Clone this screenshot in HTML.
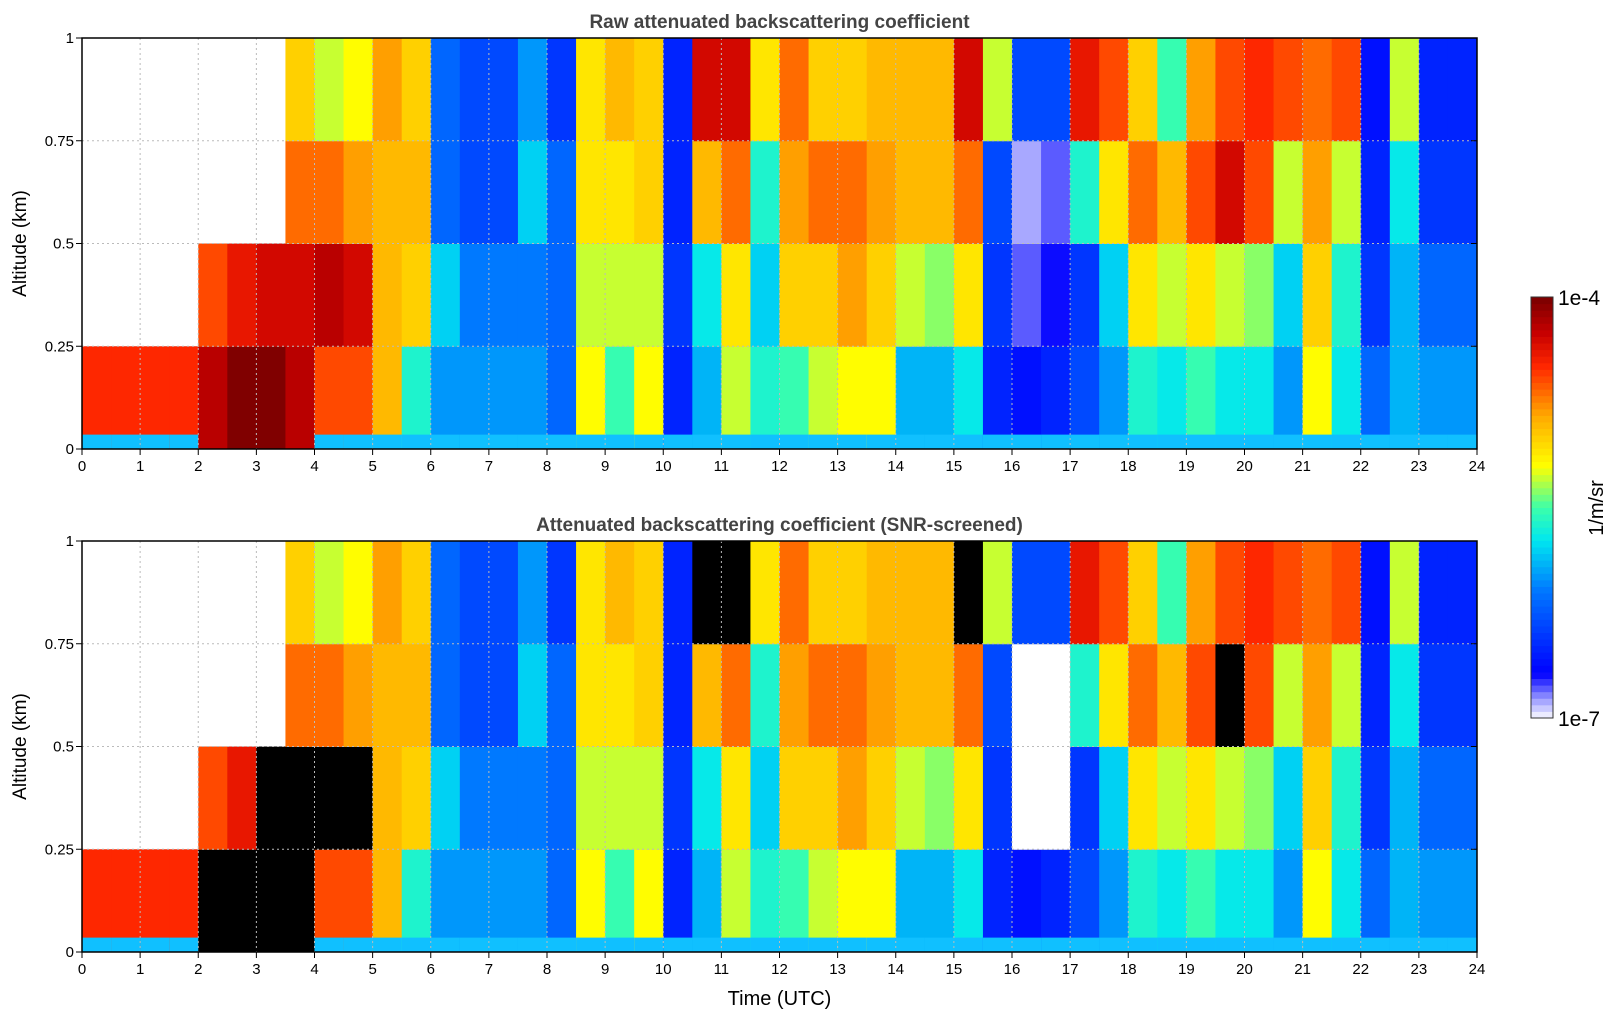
<!DOCTYPE html>
<html><head><meta charset="utf-8">
<style>
body{margin:0;background:#fff;}
svg text{font-family:"Liberation Sans","DejaVu Sans",sans-serif;}
</style></head>
<body>
<svg id="chart" width="1621" height="1020" xmlns="http://www.w3.org/2000/svg">
<rect width="1621" height="1020" fill="#fff"/>
</svg>
<script>
// log10 backscatter per half-hour column, 4 altitude bins (0-0.25, 0.25-0.5, 0.5-0.75, 0.75-1 km); null = no data
const bin0 = [-4.5,-4.5,-4.5,-4.5,-4.2,-4.0,-4.0,-4.2,-4.6,-4.6,-4.9,-5.6,-6.0,-6.0,-6.0,-6.0,-6.2,-5.2,-5.5,-5.2,-6.5,-5.9,-5.3,-5.6,-5.5,-5.3,-5.2,-5.2,-5.9,-5.9,-5.7,-6.5,-6.6,-6.5,-6.3,-6.0,-5.6,-5.7,-5.5,-5.7,-5.7,-6.0,-5.2,-5.7,-6.2,-5.9,-6.0,-6.0];
const bin1 = [null,null,null,null,-4.6,-4.4,-4.3,-4.3,-4.2,-4.3,-4.9,-5.0,-5.8,-6.1,-6.1,-6.1,-6.2,-5.3,-5.3,-5.3,-6.4,-5.7,-5.1,-5.8,-5.0,-5.0,-4.8,-5.0,-5.3,-5.4,-5.1,-6.4,-6.8,-6.7,-6.4,-5.8,-5.1,-5.3,-5.1,-5.3,-5.4,-5.8,-5.0,-5.6,-6.4,-5.9,-6.2,-6.2];
const bin2 = [null,null,null,null,null,null,null,-4.7,-4.7,-4.8,-4.9,-4.9,-6.2,-6.3,-6.3,-5.8,-6.2,-5.1,-5.1,-5.0,-6.5,-4.9,-4.7,-5.6,-4.8,-4.7,-4.7,-4.8,-4.9,-4.9,-4.7,-6.3,-6.9,-6.8,-5.6,-5.1,-4.7,-4.9,-4.6,-4.3,-4.6,-5.3,-4.8,-5.3,-6.5,-5.7,-6.4,-6.4];
const bin3 = [null,null,null,null,null,null,null,-5.0,-5.3,-5.2,-4.8,-5.0,-6.2,-6.3,-6.3,-6.0,-6.4,-5.1,-4.9,-5.0,-6.5,-4.3,-4.3,-5.1,-4.7,-5.0,-5.0,-4.9,-4.9,-4.9,-4.3,-5.3,-6.3,-6.3,-4.4,-4.6,-5.0,-5.5,-4.8,-4.6,-4.5,-4.6,-4.7,-4.6,-6.6,-5.3,-6.5,-6.5];
const xTicks = ["0","1","2","3","4","5","6","7","8","9","10","11","12","13","14","15","16","17","18","19","20","21","22","23","24"];
const yTicks = ["0","0.25","0.5","0.75","1"];
const titles = ["Raw attenuated backscattering coefficient","Attenuated backscattering coefficient (SNR-screened)"];

const NS="http://www.w3.org/2000/svg";
const svg=document.getElementById('chart');
const X0=82,X1=1477;
const panels=[{top:38,bot:449},{top:541,bot:952}];
function xs(h){return X0+(X1-X0)*h/24;}
function ys(p,a){return p.bot-(p.bot-p.top)*a;}
const stops=[[0,[235,235,255]],[0.04,[150,150,255]],[0.1,[0,0,255]],[0.3,[0,120,255]],[0.42,[0,230,240]],[0.5,[60,255,170]],[0.6,[255,255,0]],[0.72,[255,170,0]],[0.84,[255,40,0]],[0.92,[200,0,0]],[1,[128,0,0]]];
function cmap(t){t=Math.max(0,Math.min(1,t));t=Math.floor(t*63.99)/63;
 for(let i=1;i<stops.length;i++){if(t<=stops[i][0]){const a=stops[i-1],b=stops[i],f=(t-a[0])/(b[0]-a[0]);
 return 'rgb('+a[1].map((c,k)=>Math.round(c+(b[1][k]-c)*f)).join(',')+')';}}return 'rgb(128,0,0)';}
function mk(tag,attrs,parent){const e=document.createElementNS(NS,tag);for(const k in attrs)e.setAttribute(k,attrs[k]);(parent||svg).appendChild(e);return e;}
const bins=[bin0,bin1,bin2,bin3];
panels.forEach((p,pi)=>{
 const g=mk('g',{});
 
 
 for(let c=0;c<48;c++){for(let b=0;b<4;b++){const v=bins[b][c];if(v===null)continue;
  let col=cmap((v+7)/3);
  if(pi===1){if(v>-4.35)col='#000';else if(v<-6.6)col='#fff';}
  const r=mk('rect',{x:xs(c/2),y:ys(p,(b+1)/4),width:xs((c+1)/2)-xs(c/2)+0.5,height:ys(p,b/4)-ys(p,(b+1)/4)+0.5,fill:col},g);
  
  
 }
 if(bin0[c]<-4.3){
  const s=mk('rect',{x:xs(c/2),y:ys(p,0.035),width:xs((c+1)/2)-xs(c/2)+0.5,height:ys(p,0)-ys(p,0.035),fill:'#10c0ff'},g);
  
  
 }}
 for(let i=1;i<24;i++)mk('line',{x1:xs(i),x2:xs(i),y1:p.top,y2:p.bot,stroke:'#bbb','stroke-dasharray':'2,3','stroke-width':1});
 for(let j=1;j<4;j++)mk('line',{x1:X0,x2:X1,y1:ys(p,j/4),y2:ys(p,j/4),stroke:'#bbb','stroke-dasharray':'2,3','stroke-width':1});
 const fr=mk('rect',{x:X0,y:p.top,width:X1-X0,height:p.bot-p.top,fill:'none',stroke:'#000','stroke-width':1.5});
 
 
 xTicks.forEach((t,i)=>{mk('line',{x1:xs(i),x2:xs(i),y1:p.bot,y2:p.bot+6,stroke:'#000'});
  const tx=mk('text',{x:xs(i),y:p.bot+22,'font-size':15,'text-anchor':'middle'});tx.textContent=t;
  });
 yTicks.forEach((t,j)=>{const y=ys(p,j/4);mk('line',{x1:X0-6,x2:X0,y1:y,y2:y,stroke:'#000'});mk('line',{x1:X1-6,x2:X1,y1:y,y2:y,stroke:'#000'});
  const tx=mk('text',{x:X0-8,y:y+5,'font-size':15,'text-anchor':'end'});tx.textContent=t;
  });
 const tt=mk('text',{x:(X0+X1)/2,y:p.top-10,'font-size':19,'font-weight':'bold','text-anchor':'middle',fill:'#444'});tt.textContent=titles[pi];
 
 const yl=mk('text',{x:0,y:0,'font-size':19,'text-anchor':'middle',transform:`translate(26,${(p.top+p.bot)/2}) rotate(-90)`});yl.textContent='Altitude (km)';
 
});
const xl=mk('text',{x:(X0+X1)/2,y:1005,'font-size':20,'text-anchor':'middle'});xl.textContent='Time (UTC)';

const CT=297,CB=718,CX=1531,CW=22;
const cb=mk('g',{});
for(let i=0;i<64;i++){const y0=CB-(CB-CT)*(i+1)/64;mk('rect',{x:CX,y:y0,width:CW,height:(CB-CT)/64+0.5,fill:cmap(i/63)},cb);}
mk('rect',{x:CX,y:CT,width:CW,height:CB-CT,fill:'none',stroke:'#333','stroke-width':1},cb);
const t1=mk('text',{x:CX+27,y:CT+8,'font-size':21});t1.textContent='1e-4';
const t2=mk('text',{x:CX+27,y:CB+8,'font-size':21});t2.textContent='1e-7';
const t3=mk('text',{x:0,y:0,'font-size':20,'text-anchor':'middle',transform:`translate(1603,508) rotate(-90)`});t3.textContent='1/m/sr';
</script>
</body></html>
